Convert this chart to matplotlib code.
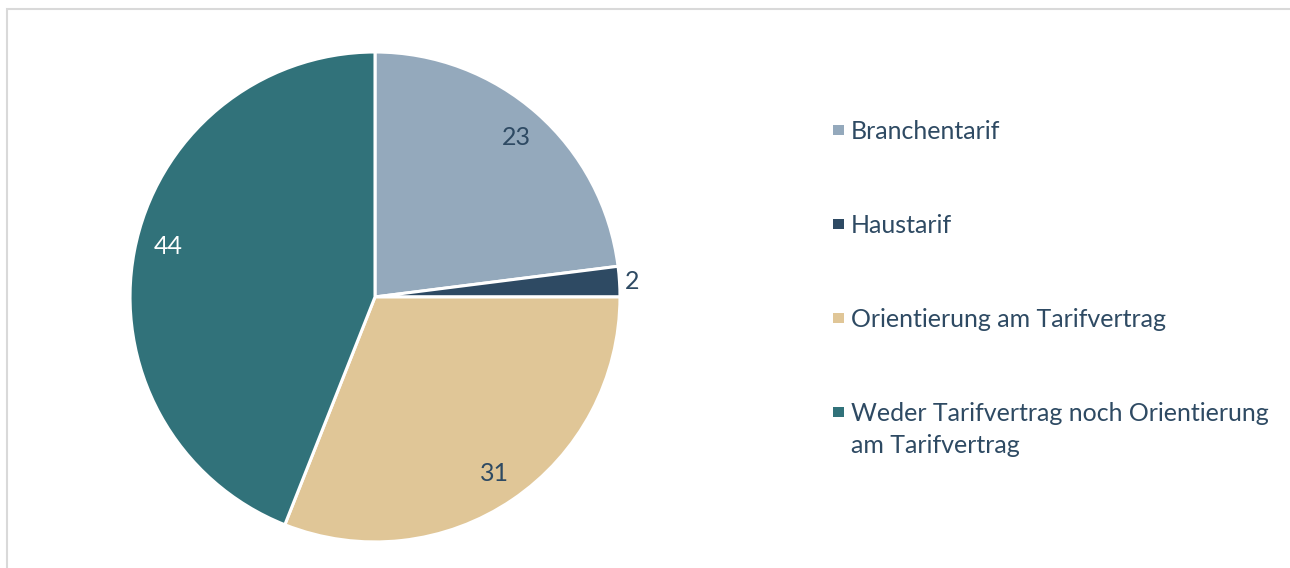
import numpy as np
import matplotlib.pyplot as plt
from matplotlib.patches import Rectangle

# data
categories = ["Branchentarif", "Haustarif", "Orientierung am Tarifvertrag",
              "Weder Tarifvertrag noch Orientierung\nam Tarifvertrag"]
values = [23, 2, 31, 44]
colors = ["#94a9bc", "#2e4a63", "#e0c697", "#31727a"]
label_colors = ["#2e4a63", "#2e4a63", "#2e4a63", "#ffffff"]

plt.rcParams["font.family"] = ["Lato", "DejaVu Sans"]
FS = 18
TEXT_COLOR = "#2e4a63"
W, H = 1290, 568

fig = plt.figure(figsize=(W / 100, H / 100), dpi=100)

# light grey frame (right and bottom edges fall outside the picture)
fig.patches.append(Rectangle((6.5 / W, -0.05), 1.1, 1.05 - 9 / H,
                             transform=fig.transFigure, fill=False,
                             edgecolor="#d9d9d9", linewidth=1.5))

ax = fig.add_axes([0.1008, 0.0458, 0.3798, 0.8627])
wedges, _ = ax.pie(values, colors=colors, startangle=90, counterclock=False,
                   radius=1, wedgeprops=dict(edgecolor="white", linewidth=2.2))
ax.set_xlim(-1, 1)
ax.set_ylim(-1, 1)
ax.set_aspect("equal")
ax.axis("off")

# value labels
for w, v, c in zip(wedges, values, label_colors):
    ang = np.deg2rad((w.theta1 + w.theta2) / 2)
    if v > 40:
        ang -= np.deg2rad(3)  # excel nudges this one a bit upward
    r = 0.87 if v > 5 else 1.02
    ha = "center" if v > 5 else "left"
    ax.text(r * np.cos(ang), r * np.sin(ang), str(v), ha=ha, va="center",
            fontsize=FS, color=c)

# legend on the right, one entry every ~94 px
baseline0, step, line_h = 139, 94, 32
for i, (lab, col) in enumerate(zip(categories, colors)):
    base = baseline0 + i * step
    # multi-line text: baseline alignment refers to the last line
    last = base + line_h * lab.count("\n")
    fig.text(851 / W, 1 - last / H, lab, ha="left", va="baseline",
             fontsize=FS, color=TEXT_COLOR, linespacing=1.45)
    fig.patches.append(Rectangle((833 / W, 1 - (base - 4) / H), 11 / W, 10 / H,
                                 transform=fig.transFigure, facecolor=col,
                                 edgecolor="none"))

fig.savefig("out.png", dpi=100)
